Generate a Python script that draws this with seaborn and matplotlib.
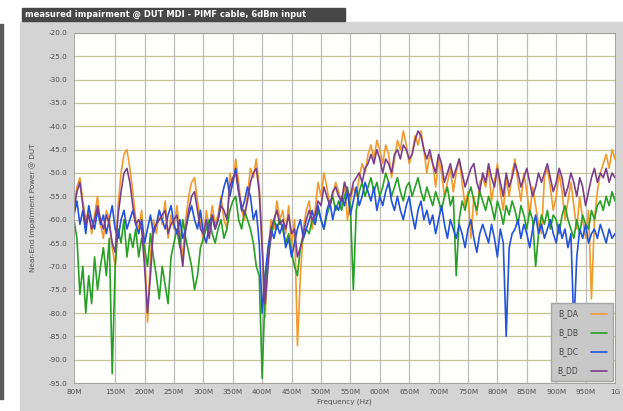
import numpy as np
import pandas as pd
import matplotlib
matplotlib.use("Agg")
import matplotlib.pyplot as plt
import seaborn as sns
from matplotlib.patches import Rectangle
from matplotlib.lines import Line2D

# Frequency grid of the sweep, in MHz
freq_mhz = np.arange(80, 1001, 5)

# Measured impairment power per pair (dB)
b_da = [
    -57, -53, -51, -56, -60, -58, -63, -59, -55, -61,
    -64, -58, -60, -66, -70, -57, -50, -46, -45, -49,
    -54, -60, -62, -58, -66, -82, -68, -60, -63, -58,
    -61, -56, -64, -59, -62, -57, -63, -68, -60, -55,
    -52, -51, -56, -60, -65, -58, -62, -57, -61, -59,
    -55, -60, -62, -50, -53, -47, -52, -58, -60, -55,
    -49, -51, -47, -53, -65, -81, -68, -60, -62, -56,
    -60, -58, -63, -57, -66, -60, -87, -72, -62, -58,
    -56, -62, -58, -52, -55, -50, -53, -57, -55, -52,
    -54, -57, -52, -60, -56, -53, -55, -51, -48, -50,
    -46, -44, -47, -43, -45, -48, -44, -46, -51, -47,
    -43, -45, -41, -44, -48, -46, -42, -44, -41, -45,
    -50, -46, -48, -53, -47, -50, -55, -52, -49, -54,
    -50, -47, -52, -57, -54, -64, -55, -59, -52, -51,
    -53, -49, -56, -52, -48, -54, -58, -51, -55, -50,
    -47, -52, -56, -50, -54, -59, -53, -57, -61, -63,
    -51, -49, -53, -58, -55, -50, -54, -60, -56, -52,
    -57, -62, -55, -60, -64, -58, -77, -60, -54, -50,
    -48, -46, -49, -45, -47,
]
b_db = [
    -60, -64, -76, -70, -80, -72, -78, -68, -75, -70,
    -66, -72, -64, -93, -70, -62, -65, -60, -68, -63,
    -66, -62, -68, -64, -66, -70, -63, -68, -72, -77,
    -70, -74, -78, -68, -65, -62, -66, -60, -64, -67,
    -70, -75, -72, -66, -64, -62, -60, -63, -65, -62,
    -60, -64, -62, -58, -56, -55, -60, -62, -58, -60,
    -62, -65, -70, -72, -94, -75, -68, -64, -60, -62,
    -60, -62, -65, -63, -67, -70, -72, -66, -64, -62,
    -63, -60, -61, -58, -60, -62, -59, -57, -55, -58,
    -56, -58, -55, -53, -57, -75, -58, -54, -52, -55,
    -53, -51, -54, -52, -55, -53, -50, -52, -55, -53,
    -51, -54, -56, -53, -52, -55, -53, -51, -54, -56,
    -53, -55, -57, -54, -56, -58, -55, -53, -57, -55,
    -72, -60, -56, -58, -55, -53, -56, -58, -54, -56,
    -58, -55, -57, -60, -56, -58, -61, -57, -59, -56,
    -58, -61, -57, -59, -62, -58, -60, -70, -63, -59,
    -61, -58, -62, -59, -60, -63, -59, -57, -60, -62,
    -64, -60, -63, -59, -61, -62, -58, -60, -57, -56,
    -58, -55, -57, -54, -56,
]
b_dc = [
    -59, -56, -61, -58, -63, -57, -60, -62, -58, -61,
    -59, -63, -60, -57, -62, -64, -60, -58, -62, -60,
    -58, -61, -63, -60, -65, -62, -59, -63, -61, -58,
    -60, -62, -59, -57, -61, -63, -60, -64, -62, -59,
    -57, -60, -62, -58, -63, -65, -61, -59, -62, -60,
    -56, -53, -51, -55, -52, -49, -54, -58, -56, -53,
    -55, -60, -58, -65, -80, -72, -66, -62, -64, -61,
    -63, -61, -66, -64, -68, -65, -62, -60, -64, -62,
    -60, -58, -61, -57, -60, -62, -58, -56, -60, -57,
    -58, -55, -57, -54, -59, -56, -53, -57, -55, -52,
    -54, -56, -53, -58, -55, -57, -54, -52, -56, -58,
    -55, -58, -60, -57, -55, -59, -62, -58, -56, -60,
    -58, -61, -59, -63, -60, -57, -61, -64, -60, -62,
    -64, -61, -63, -66, -62, -60, -64, -67, -63, -61,
    -63, -65, -61, -64, -68, -62, -65, -85, -66, -63,
    -62, -60, -64, -61, -63, -66, -62, -59, -63, -61,
    -64, -62, -60, -63, -65, -61, -64, -62, -66, -63,
    -83, -68, -62, -64, -61, -65, -63, -62, -64, -61,
    -63, -65, -62, -64, -63,
]
b_dd = [
    -58, -54, -52, -57, -61, -59, -62, -60, -57, -60,
    -62, -59, -61, -65, -67, -59, -54, -50, -49, -52,
    -57, -61, -60, -62, -70, -80, -72, -62, -61, -60,
    -59, -58, -63, -61, -60, -59, -65, -70, -62, -58,
    -55, -54, -58, -62, -63, -60, -64, -59, -62, -60,
    -57, -58, -60, -53, -51, -50, -54, -57, -59, -56,
    -52, -50, -49, -54, -66, -78, -70, -62, -60, -58,
    -61, -60, -62, -59, -63, -62, -68, -66, -63, -60,
    -58, -60, -59, -56, -57, -53, -55, -57, -54, -53,
    -55, -56, -52, -54, -55, -52, -51, -50, -52, -49,
    -48, -46, -48, -45, -47, -50, -47, -48, -50, -46,
    -45, -47, -44, -45, -47, -46, -43, -41, -42, -45,
    -47, -45, -48, -50, -46, -48, -52, -50, -48, -51,
    -49, -47, -50, -53, -51, -49, -48, -52, -54, -50,
    -52, -48, -51, -53, -49, -52, -55, -50, -53, -51,
    -48, -50, -53, -51, -49, -52, -55, -53, -50, -52,
    -50, -48, -51, -54, -52, -49, -51, -55, -53, -50,
    -52, -55, -51, -53, -57, -54, -51, -49, -52, -50,
    -51, -49, -52, -50, -51,
]

series_names = ["B_DA", "B_DB", "B_DC", "B_DD"]
series_colors = ["#f29a2e", "#28a028", "#2352dc", "#7a3f8c"]

x_tick_mhz = [80, 150, 200, 250, 300, 350, 400, 450, 500, 550, 600,
              650, 700, 750, 800, 850, 900, 950, 1000]
x_tick_labels = ["80M", "150M", "200M", "250M", "300M", "350M", "400M",
                 "450M", "500M", "550M", "600M", "650M", "700M", "750M",
                 "800M", "850M", "900M", "950M", "1G"]
y_ticks = [-20, -25, -30, -35, -40, -45, -50, -55, -60, -65, -70, -75,
           -80, -85, -90, -95]

df = pd.concat([
    pd.DataFrame({"freq": freq_mhz, "power": vals, "pair": name})
    for name, vals in zip(series_names, [b_da, b_db, b_dc, b_dd])
])

sns.set_style("white")
W, H = 623, 411
fig = plt.figure(figsize=(W / 100, H / 100), dpi=100)
fig.patch.set_facecolor("white")

# Panel background, title strip and left bar
fig.add_artist(Rectangle((20 / W, 0), 1 - 20 / W, (H - 22) / H,
                         transform=fig.transFigure, color="#d4d4d4", zorder=0))
fig.add_artist(Rectangle((22 / W, (H - 21) / H), 323 / W, 13 / H,
                         transform=fig.transFigure, color="#474747", zorder=1))
fig.add_artist(Rectangle((0, 12 / H), 3 / W, (H - 36) / H,
                         transform=fig.transFigure, color="#5a5a5a", zorder=1))
fig.text(25 / W, (H - 14.5) / H,
         "measured impairment @ DUT MDI - PIMF cable, 6dBm input",
         color="white", fontsize=6, fontweight="bold", va="center", ha="left")

ax = fig.add_axes([74 / W, 28 / H, 541 / W, 350 / H])
ax.set_facecolor("#fffffc")

sns.lineplot(data=df, x="freq", y="power", hue="pair",
             palette=dict(zip(series_names, series_colors)),
             linewidth=1.2, ax=ax, legend=False, estimator=None, sort=False)

ax.set_xlim(80, 1000)
ax.set_ylim(-95, -20)
ax.set_xticks(x_tick_mhz)
ax.set_xticklabels(x_tick_labels)
ax.set_yticks(y_ticks)
ax.set_yticklabels([f"{v:.1f}" for v in y_ticks])
ax.tick_params(axis="both", labelsize=5.2, colors="#505050", length=3,
               width=0.6, pad=1.5)

for v in y_ticks:
    ax.axhline(v, color="#c6c493", lw=0.9, zorder=0)
for v in x_tick_mhz[1:-1]:
    ax.axvline(v, color="#bcbcbc", lw=0.9, zorder=0)

for s in ax.spines.values():
    s.set_color("#9a9a9a")
    s.set_linewidth(0.6)

ax.set_xlabel("Frequency (Hz)", fontsize=5.2, color="#505050", labelpad=2)
ax.set_ylabel("Near-End Impairment Power @ DUT", fontsize=5.2,
              color="#505050", labelpad=9)

handles = [Line2D([], [], color=c, lw=1.2) for c in series_colors]
leg = ax.legend(handles, series_names, loc="lower right", markerfirst=False,
                fontsize=5.5, frameon=True, fancybox=False, framealpha=1,
                facecolor="#c8c8c8", edgecolor="#a5a5a5", borderaxespad=0.2,
                handlelength=2.2, labelspacing=1.3, borderpad=0.8,
                handletextpad=1.6)
for t in leg.get_texts():
    t.set_color("#444444")

fig.savefig("out.png", dpi=100)
